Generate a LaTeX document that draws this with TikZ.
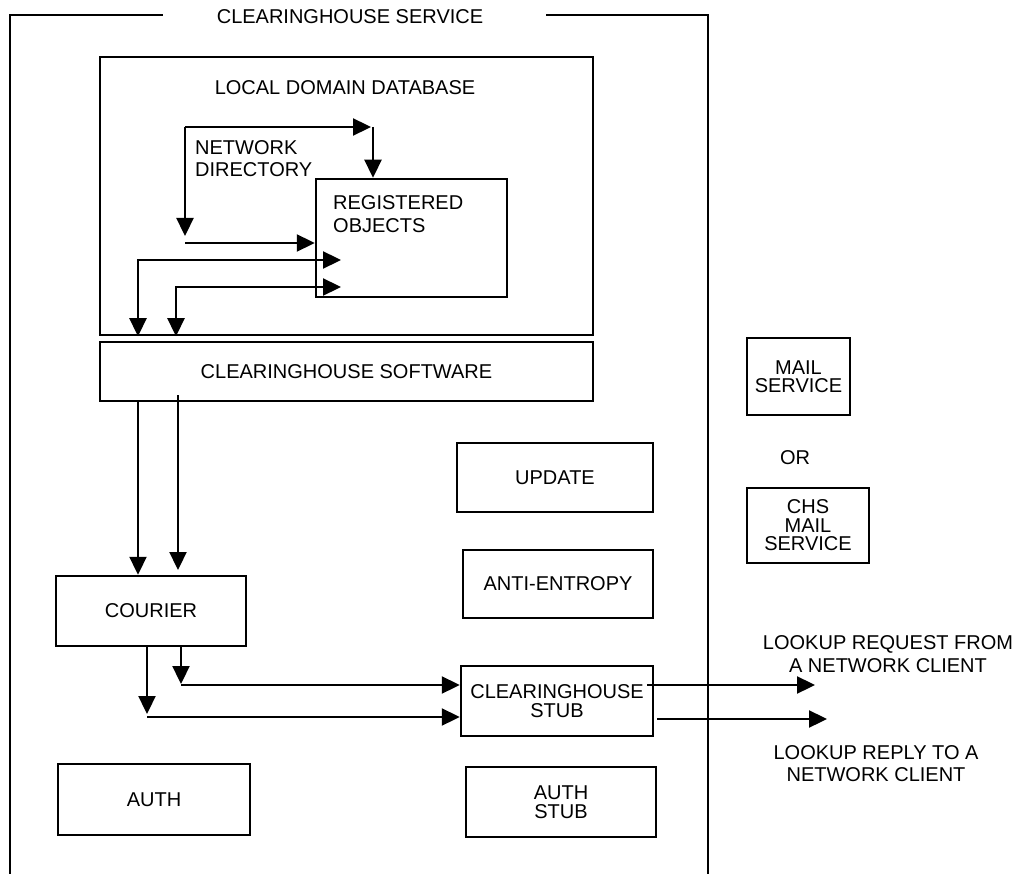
\documentclass[tikz,border=0pt]{standalone}
\usepackage{fontspec}
\setmainfont{Liberation Sans}
\usetikzlibrary{arrows.meta}
\begin{document}
\begin{tikzpicture}[x=1pt,y=-1pt,
  box/.style={draw, line width=2.5pt, inner sep=0pt, align=center, font=\fontsize{20}{18.5}\selectfont},
  lbl/.style={inner sep=0pt, font=\fontsize{20}{22.5}\selectfont},
  conn/.style={line width=2.3pt, -{Triangle[length=18pt,width=17pt]}},
  dconn/.style={line width=2.3pt, {Triangle[length=18pt,width=17pt]}-{Triangle[length=18pt,width=17pt]}},
  frame/.style={line width=2.2pt}]
\useasboundingbox (0,0) rectangle (1022,874);
% outer frame (open at the bottom)
\node[lbl] (title) at (350,17) {CLEARINGHOUSE SERVICE};
\coordinate (fTL) at (10,15);
\coordinate (fTR) at (708,15);
\coordinate (fBL) at (10,874);
\coordinate (fBR) at (708,874);
\coordinate (gapL) at (163,15);
\coordinate (gapR) at (546,15);
\draw[frame] (fBL) -- (fTL) -- (gapL);
\draw[frame] (gapR) -- (fTR) -- (fBR);
% local domain database
\node[box, minimum width=493pt, minimum height=278pt] (db) at (346.5,196) {};
\node[lbl] (dbl) at (345,88) {LOCAL DOMAIN DATABASE};
\node[box, minimum width=191pt, minimum height=118pt] (reg) at (411.5,238) {};
\node[lbl, anchor=west, align=left] (regl) at (333,214) {REGISTERED\\OBJECTS};
\node[lbl, anchor=west, align=left] (ndl) at (195,158.5) {NETWORK\\DIRECTORY};
% network directory loop
\coordinate (ndTL) at (185,127);
\coordinate (ndTR) at (373,127);
\coordinate (ndTA) at (371,127);
\coordinate (ndL) at (185,236);
\coordinate (ndB) at (185,243);
\draw[conn] (ndTL) -- (ndTA);
\draw[conn] (ndTR) -- (ndTR |- reg.north);
\draw[conn] (ndTL) -- (ndL);
\draw[conn] (ndB) -- (ndB -| reg.west);
% software <-> registered objects
\node[box, minimum width=493pt, minimum height=59pt] (sw) at (346.5,371.5) {CLEARINGHOUSE SOFTWARE};
\coordinate (r1) at (341,260);
\coordinate (c1) at (138,260);
\coordinate (r2) at (341,287);
\coordinate (c2) at (176,287);
\draw[dconn] (r1) -- (c1) -- (c1 |- db.south);
\draw[dconn] (r2) -- (c2) -- (c2 |- db.south);
% courier
\node[box, minimum width=190pt, minimum height=70pt] (cour) at (151,611) {COURIER};
\coordinate (s1) at (138,401);
\coordinate (s2) at (178,395);
\draw[conn] (s1) -- (s1 |- cour.north);
\draw[conn] (s2) -- (178,570);
% clearinghouse stub
\node[box, minimum width=192pt, minimum height=70pt] (stub) at (557,701) {CLEARINGHOUSE\\STUB};
\coordinate (k1) at (181,646);
\coordinate (k1c) at (181,685);
\coordinate (k2) at (147,646);
\coordinate (k2c) at (147,717);
\draw[conn] (k1) -- (181,684);
\draw[conn] (k1c) -- (k1c -| stub.west);
\draw[conn] (k2) -- (147,714);
\draw[conn] (k2c) -- (k2c -| stub.west);
% lookup arrows
\coordinate (o1) at (815,685);
\coordinate (o2) at (827,719);
\draw[conn] (647,685) -- (o1);
\draw[conn] (657,719) -- (o2);
\node[lbl, align=center] (req) at (888,654) {LOOKUP REQUEST FROM\\A NETWORK CLIENT};
\node[lbl, align=center] (rep) at (876,763.5) {LOOKUP REPLY TO A\\NETWORK CLIENT};
% other boxes
\node[box, minimum width=196pt, minimum height=69pt] (upd) at (555,477.5) {UPDATE};
\node[box, minimum width=190pt, minimum height=68pt] (ae) at (558,584) {ANTI-ENTROPY};
\node[box, minimum width=192pt, minimum height=71pt] (auth) at (154,799.5) {AUTH};
\node[box, minimum width=190pt, minimum height=70pt] (astub) at (561,802) {AUTH\\STUB};
\node[box, minimum width=103pt, minimum height=77pt] (mail) at (798.5,376.5) {MAIL\\SERVICE};
\node[lbl] (or) at (795,458) {OR};
\node[box, minimum width=122pt, minimum height=75pt] (chs) at (808,525.5) {CHS\\MAIL\\SERVICE};
\end{tikzpicture}
\end{document}
